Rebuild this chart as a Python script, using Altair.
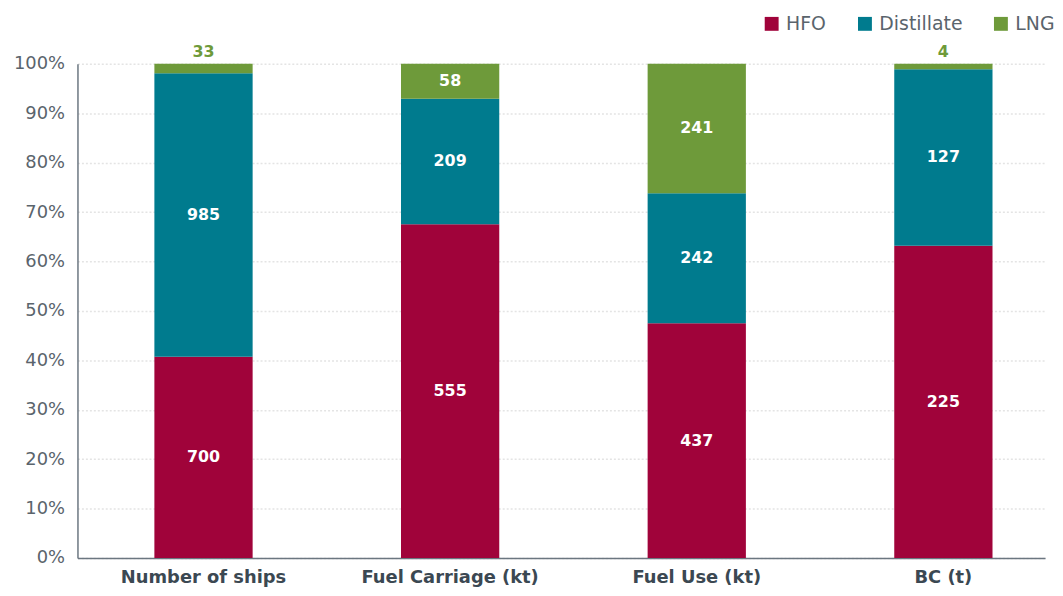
import altair as alt
import pandas as pd

categories = ["Number of ships", "Fuel Carriage (kt)", "Fuel Use (kt)", "BC (t)"]
series = ["HFO", "Distillate", "LNG"]
hfo = [700, 555, 437, 225]
distillate = [985, 209, 242, 127]
lng = [33, 58, 241, 4]
colors = ["#A0033A", "#007B8E", "#6E9A3A"]

rows = []
for i, c in enumerate(categories):
    for j, (s, vals) in enumerate(zip(series, [hfo, distillate, lng])):
        rows.append({"cat": c, "series": s, "value": vals[i], "ord": j})
df = pd.DataFrame(rows)

FONT = "DejaVu Sans"

base = alt.Chart(df).transform_stack(
    stack="value", groupby=["cat"], as_=["v0", "v1"], offset="normalize",
    sort=[alt.SortField("ord", order="ascending")]
).transform_calculate(
    mid="(datum.v0 + datum.v1) / 2",
    small="(datum.v1 - datum.v0) < 0.03"
)

xenc = alt.X("cat:N", sort=categories, title=None,
             scale=alt.Scale(paddingInner=0.6016, paddingOuter=0.2625, align=0.594),
             axis=alt.Axis(labelAngle=0, labelFontSize=18, labelFontWeight="bold",
                           labelColor="#3B4852", labelFont=FONT, ticks=False,
                           domainColor="#6B7680", domainWidth=1.5, labelPadding=11))

bars = base.mark_bar().encode(
    x=xenc,
    y=alt.Y("v0:Q", title=None, scale=alt.Scale(domain=[0, 1], nice=False),
            axis=alt.Axis(format=".0%", values=[i / 10 for i in range(11)],
                          labelFontSize=18, labelColor="#5A646C", labelFont=FONT,
                          ticks=False, labelPadding=13, domainColor="#6B7680",
                          domainWidth=1.5, gridColor="#E4E4E4", gridDash=[2, 2],
                          gridWidth=1.5)),
    y2="v1:Q",
    color=alt.Color("series:N", sort=series,
                    scale=alt.Scale(domain=series, range=colors),
                    legend=alt.Legend(title=None, orient="none", direction="horizontal",
                                      legendX=690, legendY=-50, symbolType="square",
                                      symbolSize=196, symbolStrokeWidth=0,
                                      labelFontSize=19, labelColor="#5A646C",
                                      labelFont=FONT, labelOffset=5, columnPadding=29)),
)

inside = base.transform_filter("!datum.small").mark_text(
    color="white", fontSize=16, fontWeight="bold", font=FONT
).encode(
    x=alt.X("cat:N", sort=categories),
    y=alt.Y("mid:Q"),
    text=alt.Text("value:Q"),
)

outside = base.transform_filter("datum.small").mark_text(
    color="#6E9A3A", fontSize=16, fontWeight="bold", font=FONT, dy=-12
).encode(
    x=alt.X("cat:N", sort=categories),
    y=alt.Y("v1:Q"),
    text=alt.Text("value:Q"),
)

chart = alt.layer(bars, inside, outside).properties(
    width=975, height=498,
    autosize=alt.AutoSizeParams(type="none"),
    padding={"left": 70, "top": 54, "right": 10, "bottom": 30},
).configure_view(stroke=None).configure_axisX(grid=False)

chart.save("out.html", embed_options={"renderer": "svg", "actions": False})
